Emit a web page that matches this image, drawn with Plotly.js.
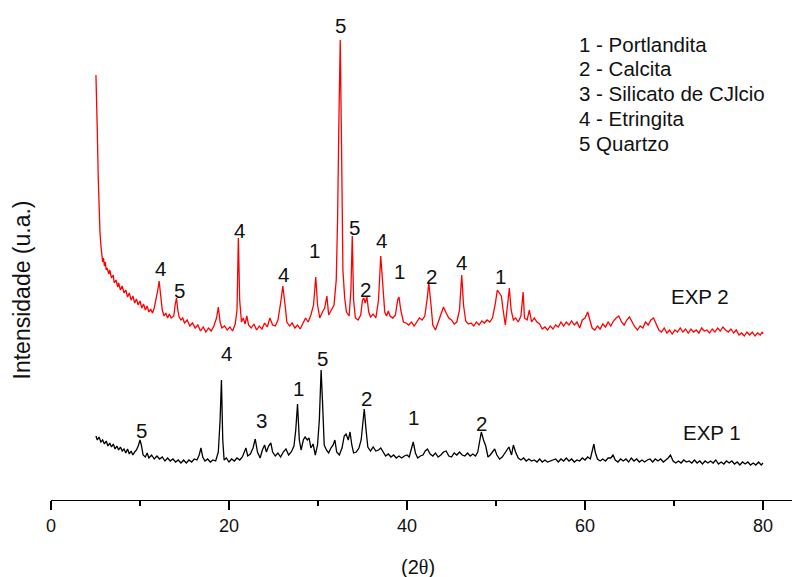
<!DOCTYPE html>
<html>
<head>
<meta charset="utf-8">
<script src="https://cdn.plot.ly/plotly-3.0.1.min.js"></script>
<style>html,body{margin:0;padding:0;background:#fff;}#chart{width:797px;height:577px;}</style>
</head>
<body>
<div id="chart"></div>
<script>
// EXP 2 (red) – 2θ and intensity (a.u.)
const exp2Theta = [5.05,5.1,5.2,5.3,5.4,5.5,5.6,5.7,5.8,5.9,6.0,6.1,6.2,6.3,6.5,6.6,6.8,7.0,7.1,7.3,7.5,7.6,7.8,8.0,8.2,8.4,8.6,8.8,9.0,9.2,9.4,9.6,9.8,10.0,10.2,10.4,10.6,10.8,11.0,11.2,11.4,11.6,11.8,12.0,12.15,12.3,12.5,12.7,12.9,13.1,13.3,13.5,13.8,13.95,14.1,14.25,14.4,14.6,14.8,15.0,15.3,15.6,15.9,16.2,16.5,16.8,17.1,17.4,17.7,18.0,18.3,18.6,18.8,19.0,19.2,19.5,19.8,20.1,20.4,20.7,20.9,21.05,21.2,21.4,21.6,21.8,22.0,22.2,22.5,22.8,23.1,23.4,23.7,24.0,24.3,24.6,24.9,25.2,25.5,25.8,26.05,26.3,26.5,26.8,27.1,27.4,27.7,28.0,28.3,28.6,28.9,29.2,29.5,29.75,29.95,30.2,30.5,30.75,31.0,31.2,31.5,31.8,32.05,32.2,32.35,32.5,32.65,32.8,33.0,33.2,33.5,33.7,33.85,34.0,34.2,34.5,34.8,35.0,35.15,35.3,35.5,35.7,35.9,36.2,36.5,36.8,37.05,37.25,37.5,37.7,37.9,38.1,38.4,38.7,38.95,39.1,39.3,39.6,39.9,40.2,40.5,40.8,41.1,41.4,41.7,42.0,42.25,42.45,42.7,42.9,43.2,43.5,43.8,44.1,44.4,44.7,45.0,45.3,45.6,45.9,46.15,46.35,46.6,46.9,47.2,47.5,47.8,48.1,48.4,48.7,49.0,49.3,49.6,49.9,50.15,50.35,50.6,50.8,51.05,51.3,51.5,51.7,51.95,52.2,52.5,52.8,53.05,53.2,53.5,53.75,54.0,54.3,54.6,54.9,55.2,55.5,55.8,56.1,56.4,56.7,57.0,57.3,57.6,57.9,58.2,58.5,58.8,59.1,59.4,59.7,60.0,60.3,60.55,60.8,61.1,61.4,61.7,62.0,62.3,62.6,62.9,63.2,63.5,63.8,64.1,64.4,64.7,65.0,65.3,65.6,65.9,66.2,66.5,66.8,67.1,67.4,67.7,68.0,68.3,68.6,68.9,69.2,69.5,69.8,70.1,70.4,70.7,71.0,71.3,71.6,71.9,72.2,72.5,72.8,73.1,73.4,73.7,74.0,74.3,74.6,74.9,75.2,75.5,75.8,76.1,76.4,76.7,77.0,77.3,77.6,77.9,78.2,78.5,78.8,79.1,79.4,79.7,79.9,80.0];
const exp2Int = [425,410,370,325,290,268,255,248,238,242,234,238,230,232,226,230,222,225,217,220,213,217,210,214,207,210,203,207,200,204,197,201,195,199,192,196,190,194,188,191,187,192,200,210,219,205,190,184,187,182,186,182,184,195,202,190,183,180,182,177,180,174,177,172,175,169,173,168,172,169,174,182,193,178,172,174,170,173,169,176,190,262,200,178,182,176,184,175,172,176,170,174,171,177,173,182,175,174,180,197,214,195,178,174,177,172,175,171,176,182,178,185,195,223,195,182,188,192,204,185,190,195,220,280,380,460,350,230,202,188,184,210,264,200,182,180,185,200,202,197,203,188,183,186,182,200,244,215,188,184,189,184,182,185,200,203,190,178,177,175,178,174,178,182,180,184,200,217,195,175,170,178,184,193,187,182,180,176,178,190,225,195,179,176,177,174,178,175,179,177,180,178,182,195,210,207,204,190,175,195,212,190,180,182,178,184,208,182,180,190,178,182,178,176,171,173,170,174,171,175,173,178,174,178,175,179,175,178,172,180,182,188,180,172,170,174,171,176,173,178,174,179,182,184,178,175,180,183,178,173,170,174,172,178,175,180,182,175,170,168,172,167,170,166,170,168,172,168,171,167,171,168,170,167,172,169,170,167,171,168,172,169,173,170,168,171,167,170,165,167,164,168,165,168,164,167,165,168,166,170,173];

// EXP 1 (black)
const exp1Theta = [5.05,5.2,5.4,5.6,5.8,6.0,6.2,6.4,6.6,6.8,7.0,7.2,7.4,7.6,7.8,8.0,8.2,8.4,8.6,8.8,9.0,9.2,9.4,9.6,9.8,10.0,10.15,10.35,10.6,10.8,11.0,11.3,11.6,11.9,12.2,12.5,12.8,13.1,13.4,13.7,14.0,14.3,14.6,14.9,15.2,15.5,15.8,16.1,16.4,16.65,16.85,17.05,17.3,17.6,17.9,18.2,18.5,18.8,19.0,19.15,19.3,19.45,19.7,20.0,20.3,20.6,20.9,21.2,21.5,21.7,21.9,22.1,22.4,22.7,22.95,23.2,23.5,23.75,24.0,24.2,24.45,24.7,24.9,25.2,25.5,25.8,26.1,26.4,26.7,27.0,27.3,27.5,27.7,27.9,28.1,28.35,28.55,28.8,29.0,29.2,29.45,29.7,29.95,30.15,30.35,30.5,30.7,30.95,31.2,31.45,31.7,31.9,32.1,32.4,32.7,32.95,33.15,33.4,33.6,33.8,34.0,34.3,34.6,34.85,35.05,35.2,35.4,35.6,35.9,36.2,36.5,36.8,37.05,37.3,37.6,37.9,38.2,38.5,38.8,39.1,39.4,39.7,40.0,40.25,40.45,40.7,40.95,41.2,41.5,41.8,42.05,42.3,42.6,42.9,43.2,43.5,43.8,44.1,44.4,44.7,45.0,45.3,45.6,45.9,46.2,46.5,46.8,47.1,47.4,47.7,47.95,48.15,48.35,48.6,48.85,49.1,49.35,49.6,49.85,50.1,50.4,50.7,50.95,51.2,51.45,51.75,51.95,52.2,52.5,52.8,53.1,53.4,53.7,54.0,54.3,54.6,54.9,55.2,55.5,55.8,56.1,56.4,56.7,57.0,57.3,57.6,57.9,58.2,58.5,58.8,59.1,59.4,59.7,60.0,60.3,60.6,60.85,61.0,61.15,61.4,61.7,62.0,62.3,62.6,62.9,63.15,63.4,63.7,64.0,64.3,64.6,64.9,65.2,65.5,65.8,66.1,66.4,66.7,67.0,67.3,67.6,67.9,68.2,68.5,68.8,69.1,69.35,69.6,69.9,70.2,70.5,70.8,71.1,71.4,71.7,72.0,72.3,72.6,72.9,73.2,73.5,73.8,74.1,74.4,74.7,75.0,75.3,75.6,75.9,76.2,76.5,76.8,77.1,77.4,77.7,78.0,78.3,78.6,78.9,79.2,79.5,79.8,80.0];
const exp1Int = [64,60,63,58,60,56,59,54,57,53,56,51,54,50,53,49,51,47,51,46,49,45,48,50,54,60,55,45,43,47,42,45,41,44,41,43,39,42,39,41,38,40,37,40,37,40,38,41,40,45,52,43,39,41,38,40,39,48,80,120,60,40,42,38,41,39,42,40,43,48,52,44,46,52,61,48,42,50,55,48,54,57,48,44,47,43,48,51,45,48,54,70,96,60,50,60,63,60,62,52,56,45,55,80,130,100,55,50,47,52,55,60,48,45,52,64,66,60,68,55,47,48,52,60,80,91,70,53,49,53,49,50,52,48,44,46,43,45,42,44,42,44,45,43,50,58,47,42,44,45,49,51,46,44,47,43,45,48,49,44,43,47,45,48,45,44,47,44,46,44,48,60,68,60,54,43,45,48,51,45,41,43,46,49,53,45,55,48,42,40,42,39,41,39,40,38,41,38,40,38,39,40,41,38,41,39,42,39,41,38,40,39,42,40,43,41,50,56,48,41,39,41,39,42,42,45,40,38,41,39,41,38,42,39,41,38,40,38,40,41,38,41,39,41,38,40,42,45,39,37,39,37,40,38,39,37,40,37,39,36,39,37,39,37,40,36,38,36,39,37,39,36,38,35,38,36,38,35,37,35,38,35,37,35];

// Peak labels
const exp2LabelText = ["4","5","4","4","1","5","5","2","4","1","2","4","1","EXP 2"];
const exp2LabelTheta = [12.25,14.43,21.18,26.15,29.62,32.56,34.13,35.36,37.11,39.16,42.78,46.18,50.54,72.92];
const exp2LabelInt = [231.5,210,270,226,249.3,475,272.3,210.7,260,228.3,223.3,237.3,223.3,204];
const exp1LabelText = ["5","4","3","1","5","2","1","2","EXP 1"];
const exp1LabelTheta = [10.18,19.69,23.61,27.78,30.55,35.43,40.76,48.41,74.22];
const exp1LabelInt = [69.3,147,79.3,111.7,142,101.7,82.7,76.7,67.3];

const legendLines = ["1 - Portlandita","2 - Calcita","3 - Silicato de CJlcio","4 - Etringita","5 Quartzo"];
const legendInt = [456,431.7,406.7,381.7,356.7];

const xTicks = [0,20,40,60,80];

const textFont = {family:"Liberation Sans, Arial, sans-serif", size:20.5, color:"#111"};
const annotations = [];
exp2LabelText.forEach((t,i)=>annotations.push({x:exp2LabelTheta[i], y:exp2LabelInt[i], text:t, showarrow:false, xanchor:"center", yanchor:"middle", font:textFont}));
exp1LabelText.forEach((t,i)=>annotations.push({x:exp1LabelTheta[i], y:exp1LabelInt[i], text:t, showarrow:false, xanchor:"center", yanchor:"middle", font:textFont}));
legendLines.forEach((t,i)=>annotations.push({x:59.05, y:legendInt[i], text:t, showarrow:false, xanchor:"left", yanchor:"middle", font:textFont}));
annotations.push({xref:"paper", yref:"paper", x:-0.0385, y:0.42, text:"Intensidade (u.a.)", textangle:-90, showarrow:false, xanchor:"center", yanchor:"middle", font:{family:"Liberation Sans, Arial, sans-serif", size:23, color:"#111"}});
annotations.push({x:41.27, yref:"paper", y:-0.1346, text:"(2<span style='font-family:Liberation Serif, Times New Roman, serif'>θ</span>)", showarrow:false, xanchor:"center", yanchor:"middle", font:{family:"Liberation Sans, Arial, sans-serif", size:20, color:"#111"}});

const traces = [
  {x:exp1Theta, y:exp1Int, type:"scatter", mode:"lines", line:{color:"#000000", width:1.3}, hoverinfo:"skip"},
  {x:exp2Theta, y:exp2Int, type:"scatter", mode:"lines", line:{color:"#ff0000", width:1.3}, hoverinfo:"skip"}
];

const layout = {
  width:797, height:577,
  margin:{l:51, r:5, t:0, b:77, pad:0},
  paper_bgcolor:"#fff", plot_bgcolor:"#fff",
  showlegend:false,
  xaxis:{range:[0,83.26], tickmode:"array", tickvals:xTicks, ticktext:xTicks.map(String),
    ticks:"outside", ticklen:9, tickwidth:1.4, tickcolor:"#000",
    minor:{dtick:10, tick0:0, ticks:"outside", ticklen:5, tickwidth:1.4, tickcolor:"#000"},
    showline:true, linecolor:"#000", linewidth:1.4, showgrid:false, zeroline:false,
    tickfont:{family:"Liberation Sans, Arial, sans-serif", size:18, color:"#111"}},
  yaxis:{range:[0,500], showticklabels:false, ticks:"", showline:false, showgrid:false, zeroline:false},
  annotations:annotations
};

Plotly.newPlot("chart", traces, layout, {staticPlot:true, displayModeBar:false});
</script>
</body>
</html>
